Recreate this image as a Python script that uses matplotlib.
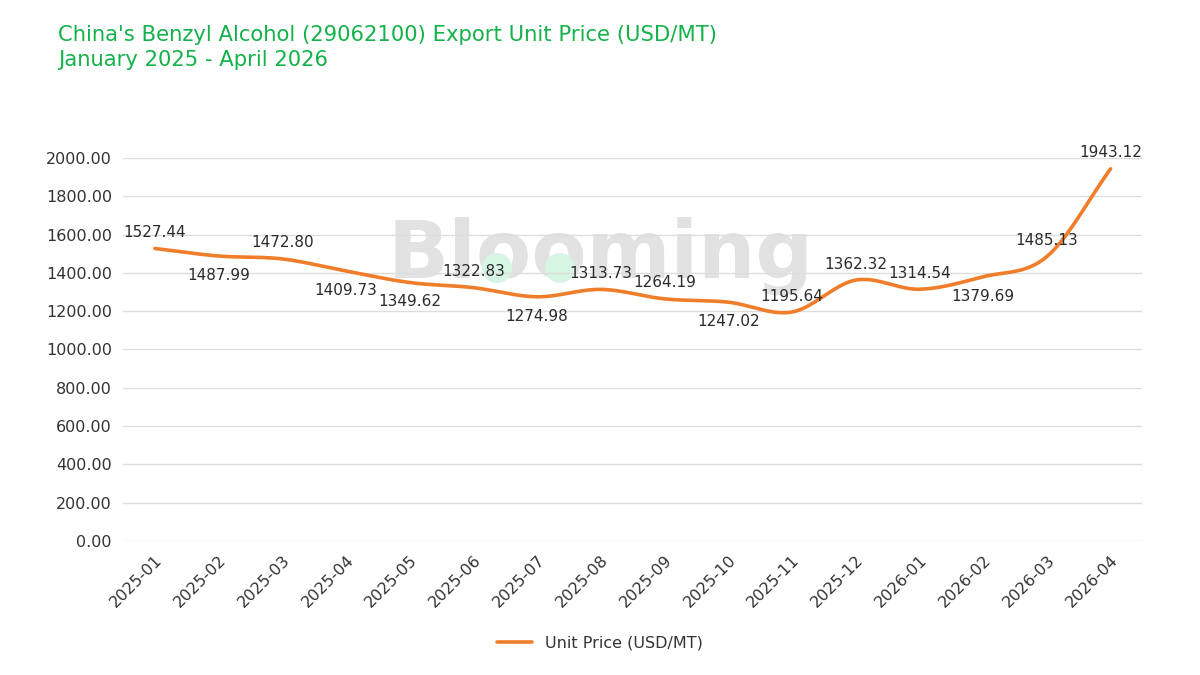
import matplotlib.pyplot as plt
from matplotlib.patches import Ellipse
import numpy as np

months = ['2025-01', '2025-02', '2025-03', '2025-04', '2025-05', '2025-06', '2025-07', '2025-08',
          '2025-09', '2025-10', '2025-11', '2025-12', '2026-01', '2026-02', '2026-03', '2026-04']
prices = [1527.44, 1487.99, 1472.80, 1409.73, 1349.62, 1322.83, 1274.98, 1313.73,
          1264.19, 1247.02, 1195.64, 1362.32, 1314.54, 1379.69, 1485.13, 1943.12]
# where each value label sits: 1 above the line, -1 below
label_side = [1, -1, 1, -1, -1, 1, -1, 1, 1, -1, 1, 1, 1, -1, 1, 1]

plt.rcParams['font.family'] = ['DejaVu Sans']

fig = plt.figure(figsize=(12, 6.75), dpi=100)
ax = fig.add_axes([0.1025, 0.1985, 0.8495, 0.5675])

x = np.arange(len(months))
y = np.array(prices)


def smooth(x, y, n=20):
    # cubic hermite through the points, slopes from neighbours
    m = np.gradient(y, x)
    xs, ys = [], []
    for i in range(len(x) - 1):
        t = np.linspace(0, 1, n, endpoint=False)
        h00 = 2 * t**3 - 3 * t**2 + 1
        h10 = t**3 - 2 * t**2 + t
        h01 = -2 * t**3 + 3 * t**2
        h11 = t**3 - t**2
        dx = x[i + 1] - x[i]
        xs.append(x[i] + t * dx)
        ys.append(h00 * y[i] + h10 * dx * m[i] + h01 * y[i + 1] + h11 * dx * m[i + 1])
    xs.append([x[-1]])
    ys.append([y[-1]])
    return np.concatenate(xs), np.concatenate(ys)


sx, sy = smooth(x, y)
ax.plot(sx, sy, color='#f07d2a', linewidth=2.6, label='Unit Price (USD/MT)', zorder=3,
        solid_capstyle='round')

for i, (v, s) in enumerate(zip(prices, label_side)):
    off = 11.5 if s > 0 else -14
    ax.annotate('%.2f' % v, (x[i], v), xytext=(0, off), textcoords='offset points',
                ha='center', va='center', fontsize=11, color='#2b2b2b', zorder=4)

# watermark, kept under the grid
ax.text(7.0, 1490, 'Blooming', fontsize=58, fontweight='bold', color='#e2e2e2',
        ha='center', va='center', zorder=0.2)
ax_w, ax_h = 0.8495 * 1200, 0.5675 * 675
for cx in (497, 560):
    ax.add_patch(Ellipse(((cx - 123) / ax_w, (541 - 268) / ax_h), 30 / ax_w, 30 / ax_h,
                         transform=ax.transAxes, color='#d6f5e2', zorder=0.3, linewidth=0))

ax.set_xlim(-0.5, len(months) - 0.5)
ax.set_ylim(0, 2000)
ax.set_yticks(np.arange(0, 2001, 200))
ax.set_yticklabels(['%.2f' % t for t in np.arange(0, 2001, 200)])
ax.set_xticks(x)
ax.set_xticklabels(months, rotation=45, ha='right', rotation_mode='anchor')
ax.tick_params(axis='both', length=0, labelsize=11.5, labelcolor='#333333')
ax.tick_params(axis='y', pad=8)
ax.tick_params(axis='x', pad=8)
ax.grid(axis='y', color='#dddddd', linewidth=1, zorder=0.5)
ax.set_axisbelow(True)
for sp in ax.spines.values():
    sp.set_visible(False)

fig.legend(loc='center', bbox_to_anchor=(0.5, 1 - 643 / 675), frameon=False, fontsize=11.5,
           handlelength=2.2, labelcolor='#333333')

fig.text(58 / 1200, 1 - 35 / 675, "China's Benzyl Alcohol (29062100) Export Unit Price (USD/MT)",
         fontsize=15.2, color='#14b24a', va='center', ha='left')
fig.text(58 / 1200, 1 - 60 / 675, 'January 2025 - April 2026',
         fontsize=15.2, color='#14b24a', va='center', ha='left')

fig.savefig('out.png', dpi=100)
